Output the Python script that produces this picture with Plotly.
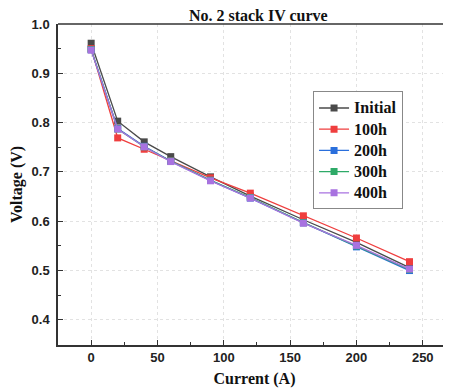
import plotly.graph_objects as go

current = [0, 20, 40, 60, 90, 120, 160, 200, 240]
v_initial = [0.961, 0.803, 0.761, 0.731, 0.690, 0.651, 0.603, 0.557, 0.506]
v_100h = [0.950, 0.769, 0.746, 0.723, 0.688, 0.657, 0.611, 0.566, 0.518]
v_200h = [0.948, 0.788, 0.752, 0.722, 0.683, 0.647, 0.597, 0.548, 0.500]
v_300h = [0.948, 0.787, 0.751, 0.722, 0.683, 0.648, 0.597, 0.550, 0.502]
v_400h = [0.947, 0.787, 0.751, 0.721, 0.682, 0.647, 0.596, 0.551, 0.503]
series_names = ["Initial", "100h", "200h", "300h", "400h"]
series_values = [v_initial, v_100h, v_200h, v_300h, v_400h]
colors = ["#4a4a4a", "#ef3e3e", "#2a6fdc", "#2eaa68", "#a872e0"]

x_ticks = [0, 50, 100, 150, 200, 250]
y_ticks = [0.4, 0.5, 0.6, 0.7, 0.8, 0.9, 1.0]

fig = go.Figure()
for name, vals, c in zip(series_names, series_values, colors):
    fig.add_trace(go.Scatter(
        x=current, y=vals, name="<span style='font-size:16px'>" + name + "</span>",
        mode="lines+markers",
        line=dict(color=c, width=1.3),
        marker=dict(symbol="square", size=7, color=c),
    ))

serif = "Liberation Serif, Times New Roman, serif"
sans = "Liberation Sans, Arial, sans-serif"

axis_common = dict(
    showline=True, linecolor="#333333", linewidth=1.5,
    ticks="inside", ticklen=5, tickwidth=1.2, tickcolor="#333333",
    showgrid=True, gridcolor="#e2e2e2", griddash="dot", gridwidth=1,
    zeroline=False, automargin=False,
    tickfont=dict(family=sans, size=13, color="#222222", weight="bold"),
)

# page has an 8px body margin, so the figure is sized to fit inside the window
W, H = 443, 383
fig.update_layout(
    width=W, height=H,
    margin=dict(l=50, r=0, t=16, b=46),
    paper_bgcolor="white", plot_bgcolor="white",
    title=dict(text="No. 2 stack IV curve", x=0.565, xanchor="center",
               y=1 - 2 / H, yanchor="top", pad=dict(t=0, b=0), automargin=False,
               font=dict(family=serif, size=16, color="#111111", weight="bold")),
    xaxis=dict(
        range=[-25, 271.3], tickvals=x_ticks,
        title=dict(text="Current (A)", standoff=8,
                   font=dict(family=serif, size=16, color="#111111", weight="bold")),
        minor=dict(ticks="inside", ticklen=3, dtick=25, tick0=0, tickcolor="#333333", showgrid=False),
        **axis_common,
    ),
    yaxis=dict(
        range=[0.349, 1.0], tickvals=y_ticks, tickformat=".1f", ticklabelstandoff=4,
        title=dict(text="Voltage (V)", standoff=7,
                   font=dict(family=serif, size=16, color="#111111", weight="bold")),
        minor=dict(ticks="inside", ticklen=3, dtick=0.05, tick0=0.35, tickcolor="#333333", showgrid=False),
        **axis_common,
    ),
    legend=dict(
        x=0.649, y=0.79, xanchor="left", yanchor="top",
        bgcolor="white", bordercolor="#888888", borderwidth=1,
        font=dict(family=serif, size=14, color="#111111", weight="bold"),
        tracegroupgap=0, itemwidth=30,
    ),
    showlegend=True,
)
fig.add_shape(type="line", xref="paper", yref="paper", x0=0, x1=1, y0=1, y1=1,
              line=dict(color="#333333", width=1.5))

fig.write_html("out.html")
